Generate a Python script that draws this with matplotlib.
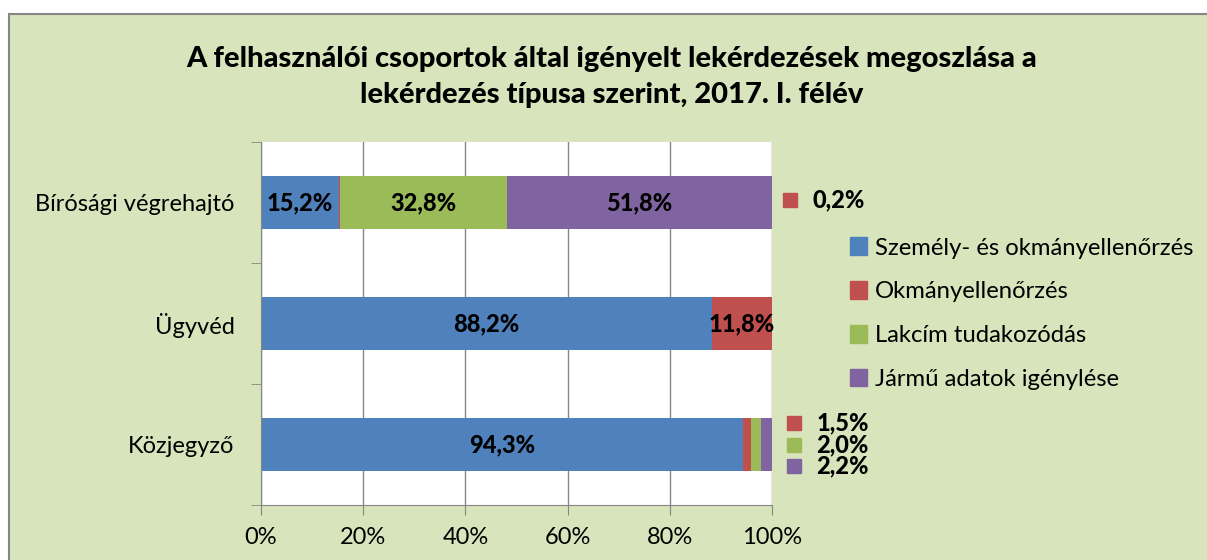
import numpy as np
import matplotlib
matplotlib.use('Agg')
import matplotlib.pyplot as plt
from matplotlib.patches import Rectangle, Patch

plt.rcParams['font.family'] = ['Lato', 'DejaVu Sans']

# adatok
kategoriak = ['Bírósági végrehajtó', 'Ügyvéd', 'Közjegyző']
szemely_okmany = [15.2, 88.2, 94.3]
okmany = [0.2, 11.8, 1.5]
lakcim = [32.8, 0.0, 2.0]
jarmu = [51.8, 0.0, 2.2]
sorozatok = ['Személy- és okmányellenőrzés', 'Okmányellenőrzés',
             'Lakcím tudakozódás', 'Jármű adatok igénylése']
szinek = ['#4F81BD', '#C0504D', '#9BBB59', '#8064A2']
cim = ('A felhasználói csoportok által igényelt lekérdezések megoszlása a\n'
       'lekérdezés típusa szerint, 2017. I. félév')

W, H = 1207, 560
fig = plt.figure(figsize=(W / 100, H / 100), dpi=100, facecolor='white')
hatter = '#D8E4BC'
szurke = '#868686'
fig.patches.append(Rectangle((9 / W, -0.1), 1.2, (H - 14) / H + 0.1,
                             transform=fig.transFigure, facecolor=hatter,
                             edgecolor=szurke, lw=1.5, zorder=-10))

ax = fig.add_axes([261 / W, (H - 505) / H, 511 / W, 363 / H])
ax.set_facecolor('white')

y = np.array([2, 1, 0])
ertekek = [szemely_okmany, okmany, lakcim, jarmu]
bal = np.zeros(3)
for s, (adat, szin) in enumerate(zip(ertekek, szinek)):
    adat = np.array(adat)
    ax.barh(y, adat, left=bal, height=0.44, color=szin, zorder=3)
    for i in range(3):
        if adat[i] >= 5:
            ax.text(bal[i] + adat[i] / 2, y[i], f'{adat[i]:.1f}%'.replace('.', ','),
                    ha='center', va='center', fontsize=17, fontweight='black', zorder=4)
    bal += adat

# kis értékek a sáv mellett
for i in range(3):
    kicsi = [(s, ertekek[s][i]) for s in range(4) if 0 < ertekek[s][i] < 5]
    n = len(kicsi)
    for k, (s, v) in enumerate(kicsi):
        yy = y[i] - (k - (n - 1) / 2) * 0.175 if n > 1 else y[i] + 0.02
        mx = 103.6 if n == 1 else 104.4
        ax.plot(mx, yy, 's', ms=10, color=szinek[s], clip_on=False, zorder=5)
        ax.text(mx + 4.3, yy, f'{v:.1f}%'.replace('.', ','), ha='left', va='center',
                fontsize=17, fontweight='black', clip_on=False)

ax.set_xlim(0, 100)
ax.set_ylim(-0.5, 2.5)
ax.set_xticks(np.arange(0, 101, 20))
ax.set_xticklabels([f'{t}%' for t in range(0, 101, 20)], fontsize=17)
ax.set_yticks(y)
ax.set_yticklabels(kategoriak, fontsize=17)
ax.set_yticks([-0.5, 0.5, 1.5, 2.5], minor=True)
ax.tick_params(axis='y', which='major', length=0, pad=19)
ax.tick_params(axis='y', which='minor', length=7, color=szurke, direction='out')
ax.tick_params(axis='x', length=7, color=szurke, pad=9)
ax.grid(axis='x', color=szurke, lw=1, zorder=1)
for sp in ['top', 'right']:
    ax.spines[sp].set_visible(False)
for sp in ['left', 'bottom']:
    ax.spines[sp].set_color(szurke)
    ax.spines[sp].set_zorder(4)

fig.text(612 / W, 1 - 77 / H, cim, ha='center', va='center', fontsize=21,
         fontweight='black', linespacing=1.45)

kezelok = [Patch(color=c, label=l) for c, l in zip(szinek, sorozatok)]
fig.legend(handles=kezelok, loc='upper left', bbox_to_anchor=(828 / W, 1 - 216 / H),
           frameon=False, fontsize=17.2, handlelength=0.75, handleheight=0.75,
           handletextpad=0.3, labelspacing=0.95)

plt.savefig('out.png', dpi=100, facecolor=fig.get_facecolor())
